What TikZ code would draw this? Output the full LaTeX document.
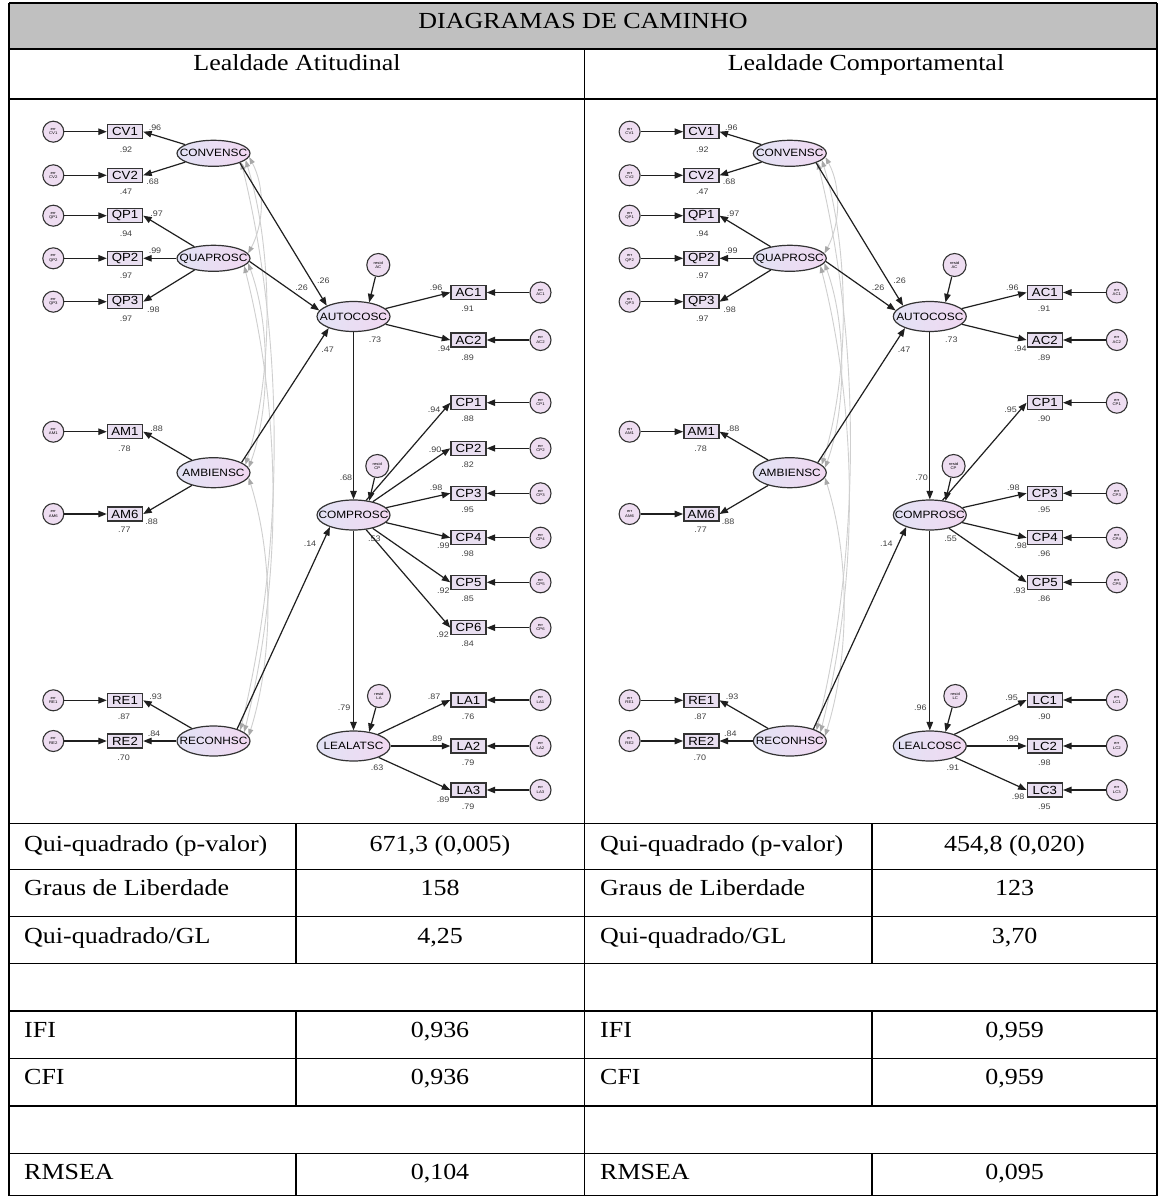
\documentclass[tikz,border=0pt]{standalone}
\usepackage{fontspec}
\setmainfont[FakeStretch=1.13]{Liberation Serif}
\newfontfamily\diagfont[FakeStretch=1.12]{Liberation Sans}
\usetikzlibrary{arrows.meta,shapes.geometric}

\definecolor{boxfill}{HTML}{E9DFF1}
\definecolor{errfill}{HTML}{EEDDF1}
\definecolor{latl}{HTML}{E2E3F5}
\definecolor{latr}{HTML}{F1D8F1}
\definecolor{edge}{HTML}{333333}
\definecolor{covline}{HTML}{CFCFCF}
\definecolor{covhead}{HTML}{A8A8A8}
\definecolor{numcol}{HTML}{404040}
\definecolor{headfill}{HTML}{C0C0C0}

\tikzset{
  obs/.style={draw=edge, line width=1.4pt, fill=boxfill, minimum width=35pt, minimum height=14pt,
    inner sep=0pt, font=\diagfont\fontsize{11.8}{11.8}\selectfont},
  lat/.style={ellipse, draw=edge, line width=1.2pt, left color=latl, right color=latr,
    minimum width=73pt, minimum height=30pt, inner sep=0pt},
  latx/.style={lat, minimum height=26pt},
  latlab/.style={font=\diagfont\fontsize{10.6}{10.6}\selectfont, inner sep=0pt},
  errc/.style={circle, draw=edge, line width=1.1pt, fill=errfill, minimum size=21pt, inner sep=0pt,
    align=center, font=\diagfont\fontsize{3.8}{4.2}\selectfont},
  resc/.style={errc, minimum size=23pt},
  num/.style={font=\diagfont\fontsize{8}{8}\selectfont, text=numcol, inner sep=0pt},
  arr/.style={draw=black!88, line width=1.2pt, -{Triangle[length=8.5pt,width=6.5pt]}},
  cov/.style={draw=covline, line width=0.9pt,
    {Triangle[length=7pt,width=5pt,color=covhead]}-{Triangle[length=7pt,width=5pt,color=covhead]}},
  cell/.style={font=\fontsize{23}{23}\selectfont, inner sep=0pt, anchor=base},
  cellw/.style={cell, anchor=base west},
  tline/.style={line width=1.3pt, draw=black},
}

% double-headed covariance arc bulging to the right
\newcommand\semcov[6]{\draw[cov] (#1.#2) .. controls +(#5,#6) and +(#5,-#6) .. (#3.#4);}

% exogenous block, AUTOCOSC with its indicators and COMPROSC (same in both models)
\newcommand\semshared[1]{%
  \node[latx, label={[latlab]center:CONVENSC}] (#1conv) at (213.5,153.3) {};
  \node[latx, label={[latlab]center:QUAPROSC}] (#1quap) at (213.5,258.3) {};
  \node[lat, label={[latlab]center:AMBIENSC}] (#1amb) at (213.5,472.7) {};
  \node[lat, label={[latlab]center:RECONHSC}] (#1recon) at (213.5,741) {};
  \node[lat, label={[latlab]center:AUTOCOSC}] (#1auto) at (353.5,316.5) {};
  \node[lat, label={[latlab]center:COMPROSC}] (#1comp) at (353.5,515) {};
  \node[resc] (#1rac) at (378.3,265) {resid\\AC};
  \node[resc] (#1rcp) at (377.3,466) {resid\\CP};
  \foreach \nm/\y/\src in {CV1/131.7/conv, CV2/175.3/conv, QP1/215.7/quap, QP2/258.3/quap,
      QP3/301.7/quap, AM1/431.7/amb, AM6/514/amb, RE1/700.3/recon, RE2/741/recon}{
    \node[obs] (#1\nm) at (125,\y) {\nm};
    \node[errc] (#1e\nm) at (53.3,\y) {err\\\nm};
    \draw[arr] (#1e\nm) -- (#1\nm);
    \draw[arr] (#1\src) -- (#1\nm.east);
  }
  \foreach \nm/\y in {AC1/292.5, AC2/340}{
    \node[obs] (#1\nm) at (468.5,\y) {\nm};
    \node[errc] (#1e\nm) at (540.5,\y) {err\\\nm};
    \draw[arr] (#1e\nm) -- (#1\nm);
    \draw[arr] (#1auto) -- (#1\nm.west);
  }
  \semcov{#1conv}{-6}{#1quap}{8}{16}{30}
  \semcov{#1conv}{-12}{#1amb}{14}{28}{90}
  \semcov{#1conv}{-18}{#1recon}{22}{44}{180}
  \semcov{#1quap}{-8}{#1amb}{8}{22}{60}
  \semcov{#1quap}{-14}{#1recon}{16}{38}{150}
  \semcov{#1amb}{-8}{#1recon}{8}{25}{80}
  \draw[arr] (#1conv.-20) -- (#1auto.158);
  \draw[arr] (#1quap.-5) -- (#1auto.170);
  \draw[arr] (#1amb.20) -- (#1auto.205);
  \draw[arr] (#1recon.27) -- (#1comp.207);
  \draw[arr] (#1rac) -- (#1auto.42);
  \draw[arr] (#1rcp) -- (#1comp.42);
  \draw[arr] (#1auto) -- (#1comp);
  \foreach \x/\y/\t [count=\i] in {155/128/.96, 126/149.5/.92, 152.7/181.7/.68, 126/191.7/.47,
      156.7/214/.97, 126/234/.94, 155/250.7/.99, 126/276/.97, 153.3/309.3/.98, 126/318.3/.97,
      156.7/428.3/.88, 124.3/448.3/.78, 151.7/521.7/.88, 124.3/530/.77, 155.7/697/.93,
      124/716.7/.87, 154/734/.84, 123.6/757.7/.70, 323.3/281/.26, 301.7/287.3/.26,
      327.7/349.3/.47, 375/339.3/.73, 310/543.3/.14, 436/287.3/.96, 467.7/308.3/.91,
      444/349/.94, 467.7/357.3/.89}{
    \node[num] (#1na\i) at (\x,\y) {\t};
  }
}

\begin{document}
\begin{tikzpicture}[x=1pt, y={(0pt,-1pt)}]
\useasboundingbox (0,0) rectangle (1159,1196);
\fill[white] (0,0) rectangle (1159,1196);

% ---------- table frame ----------
\fill[headfill] (9,3) rectangle (1157,49);
\foreach \yy in {3,49,99,823.3,869.3,916.7,963.3,1011,1058.3,1106,1153.3,1195.3}
  \draw[tline] (9,\yy) -- (1157,\yy);
\draw[tline] (9,3) -- (9,1196);
\draw[tline] (1157,3) -- (1157,1196);
\draw[tline] (584.5,49) -- (584.5,1196);
\foreach \xx in {296,872}{
  \draw[tline] (\xx,823.3) -- (\xx,963.3);
  \draw[tline] (\xx,1011) -- (\xx,1106);
  \draw[tline] (\xx,1153.3) -- (\xx,1196);
}

% ---------- table text ----------
\node[cell] (title) at (583,28.3) {DIAGRAMAS DE CAMINHO};
\node[cell] (subl) at (297,71) {Lealdade Atitudinal};
\node[cell] (subr) at (866,71) {Lealdade Comportamental};
\foreach \yy/\lab/\va/\vb [count=\i] in {851/Qui-quadrado (p-valor)/{671,3 (0,005)}/{454,8 (0,020)},
    895/Graus de Liberdade/158/123, 943/Qui-quadrado\slash GL/{4,25}/{3,70},
    1037/IFI/{0,936}/{0,959}, 1084/CFI/{0,936}/{0,959}, 1179/RMSEA/{0,104}/{0,095}}{
  \node[cellw] (la\i) at (24,\yy) {\lab};
  \node[cell] (va\i) at (440,\yy) {\va};
  \node[cellw] (lb\i) at (600,\yy) {\lab};
  \node[cell] (vb\i) at (1014.5,\yy) {\vb};
}

% ---------- attitudinal loyalty model ----------
\semshared{l}
\node[num] (lnc1) at (346,477.3) {.68};
\node[num] (lnc2) at (374.3,539) {.53};
\foreach \nm/\y/\ld/\lx/\ly/\rs [count=\i] in {CP1/402.7/.94/434/410/.88, CP2/448.3/.90/435/449.3/.82,
    CP3/493.3/.98/436/487.7/.95, CP4/537.7/.99/443.3/545.7/.98, CP5/582.3/.92/443.3/590.7/.85,
    CP6/627.7/.92/442.7/635/.84}{
  \node[obs] (l\nm) at (468.5,\y) {\nm};
  \node[errc] (le\nm) at (540.5,\y) {err\\\nm};
  \draw[arr] (le\nm) -- (l\nm);
  \draw[arr] (lcomp) -- (l\nm.west);
  \node[num] (lcpa\i) at (\lx,\ly) {\ld};
  \node[num] (lcpb\i) at (467.7,\y+16.5) {\rs};
}
\node[lat, label={[latlab]center:LEALATSC}] (lleal) at (353.5,746) {};
\node[resc] (lrla) at (379,696) {resid\\LA};
\draw[arr] (lcomp) -- (lleal);
\draw[arr] (lrla) -- (lleal.42);
\node[num] (lnd1) at (344,707.7) {.79};
\node[num] (lnd2) at (377,768) {.63};
\foreach \nm/\y/\ld/\lx/\ly/\rs [count=\i] in {LA1/700/.87/434/697/.76, LA2/746/.89/436/739/.79,
    LA3/790/.89/443/800/.79}{
  \node[obs] (l\nm) at (468.5,\y) {\nm};
  \node[errc] (le\nm) at (540.5,\y) {err\\\nm};
  \draw[arr] (le\nm) -- (l\nm);
  \draw[arr] (lleal) -- (l\nm.west);
  \node[num] (llaa\i) at (\lx,\ly) {\ld};
  \node[num] (llab\i) at (468,\y+16.7) {\rs};
}

% ---------- behavioural loyalty model ----------
\begin{scope}[xshift=576.3pt]
\semshared{r}
\node[num] (rnc1) at (345.4,477.3) {.70};
\node[num] (rnc2) at (374.4,539) {.55};
\foreach \nm/\y/\ld/\lx/\ly/\rs [count=\i] in {CP1/402.7/.95/434.4/410/.90,
    CP3/493.3/.98/437/487.7/.95, CP4/537.7/.98/444.4/545.7/.96, CP5/582.3/.93/443/590.7/.86}{
  \node[obs] (r\nm) at (468.5,\y) {\nm};
  \node[errc] (re\nm) at (540.5,\y) {err\\\nm};
  \draw[arr] (re\nm) -- (r\nm);
  \draw[arr] (rcomp) -- (r\nm.west);
  \node[num] (rcpa\i) at (\lx,\ly) {\ld};
  \node[num] (rcpb\i) at (467.7,\y+16.5) {\rs};
}
\node[lat, label={[latlab]center:LEALCOSC}] (rleal) at (353.5,746) {};
\node[resc] (rrlc) at (379,696) {resid\\LC};
\draw[arr] (rcomp) -- (rleal);
\draw[arr] (rrlc) -- (rleal.42);
\node[num] (rnd1) at (344,708) {.96};
\node[num] (rnd2) at (376.5,768) {.91};
\foreach \nm/\y/\ld/\lx/\ly/\rs [count=\i] in {LC1/700/.95/435.3/697.3/.90, LC2/746/.99/436.4/738.3/.98,
    LC3/790/.98/441.7/797/.95}{
  \node[obs] (r\nm) at (468.5,\y) {\nm};
  \node[errc] (re\nm) at (540.5,\y) {err\\\nm};
  \draw[arr] (re\nm) -- (r\nm);
  \draw[arr] (rleal) -- (r\nm.west);
  \node[num] (rlca\i) at (\lx,\ly) {\ld};
  \node[num] (rlcb\i) at (468,\y+16.7) {\rs};
}
\end{scope}
\end{tikzpicture}
\end{document}
